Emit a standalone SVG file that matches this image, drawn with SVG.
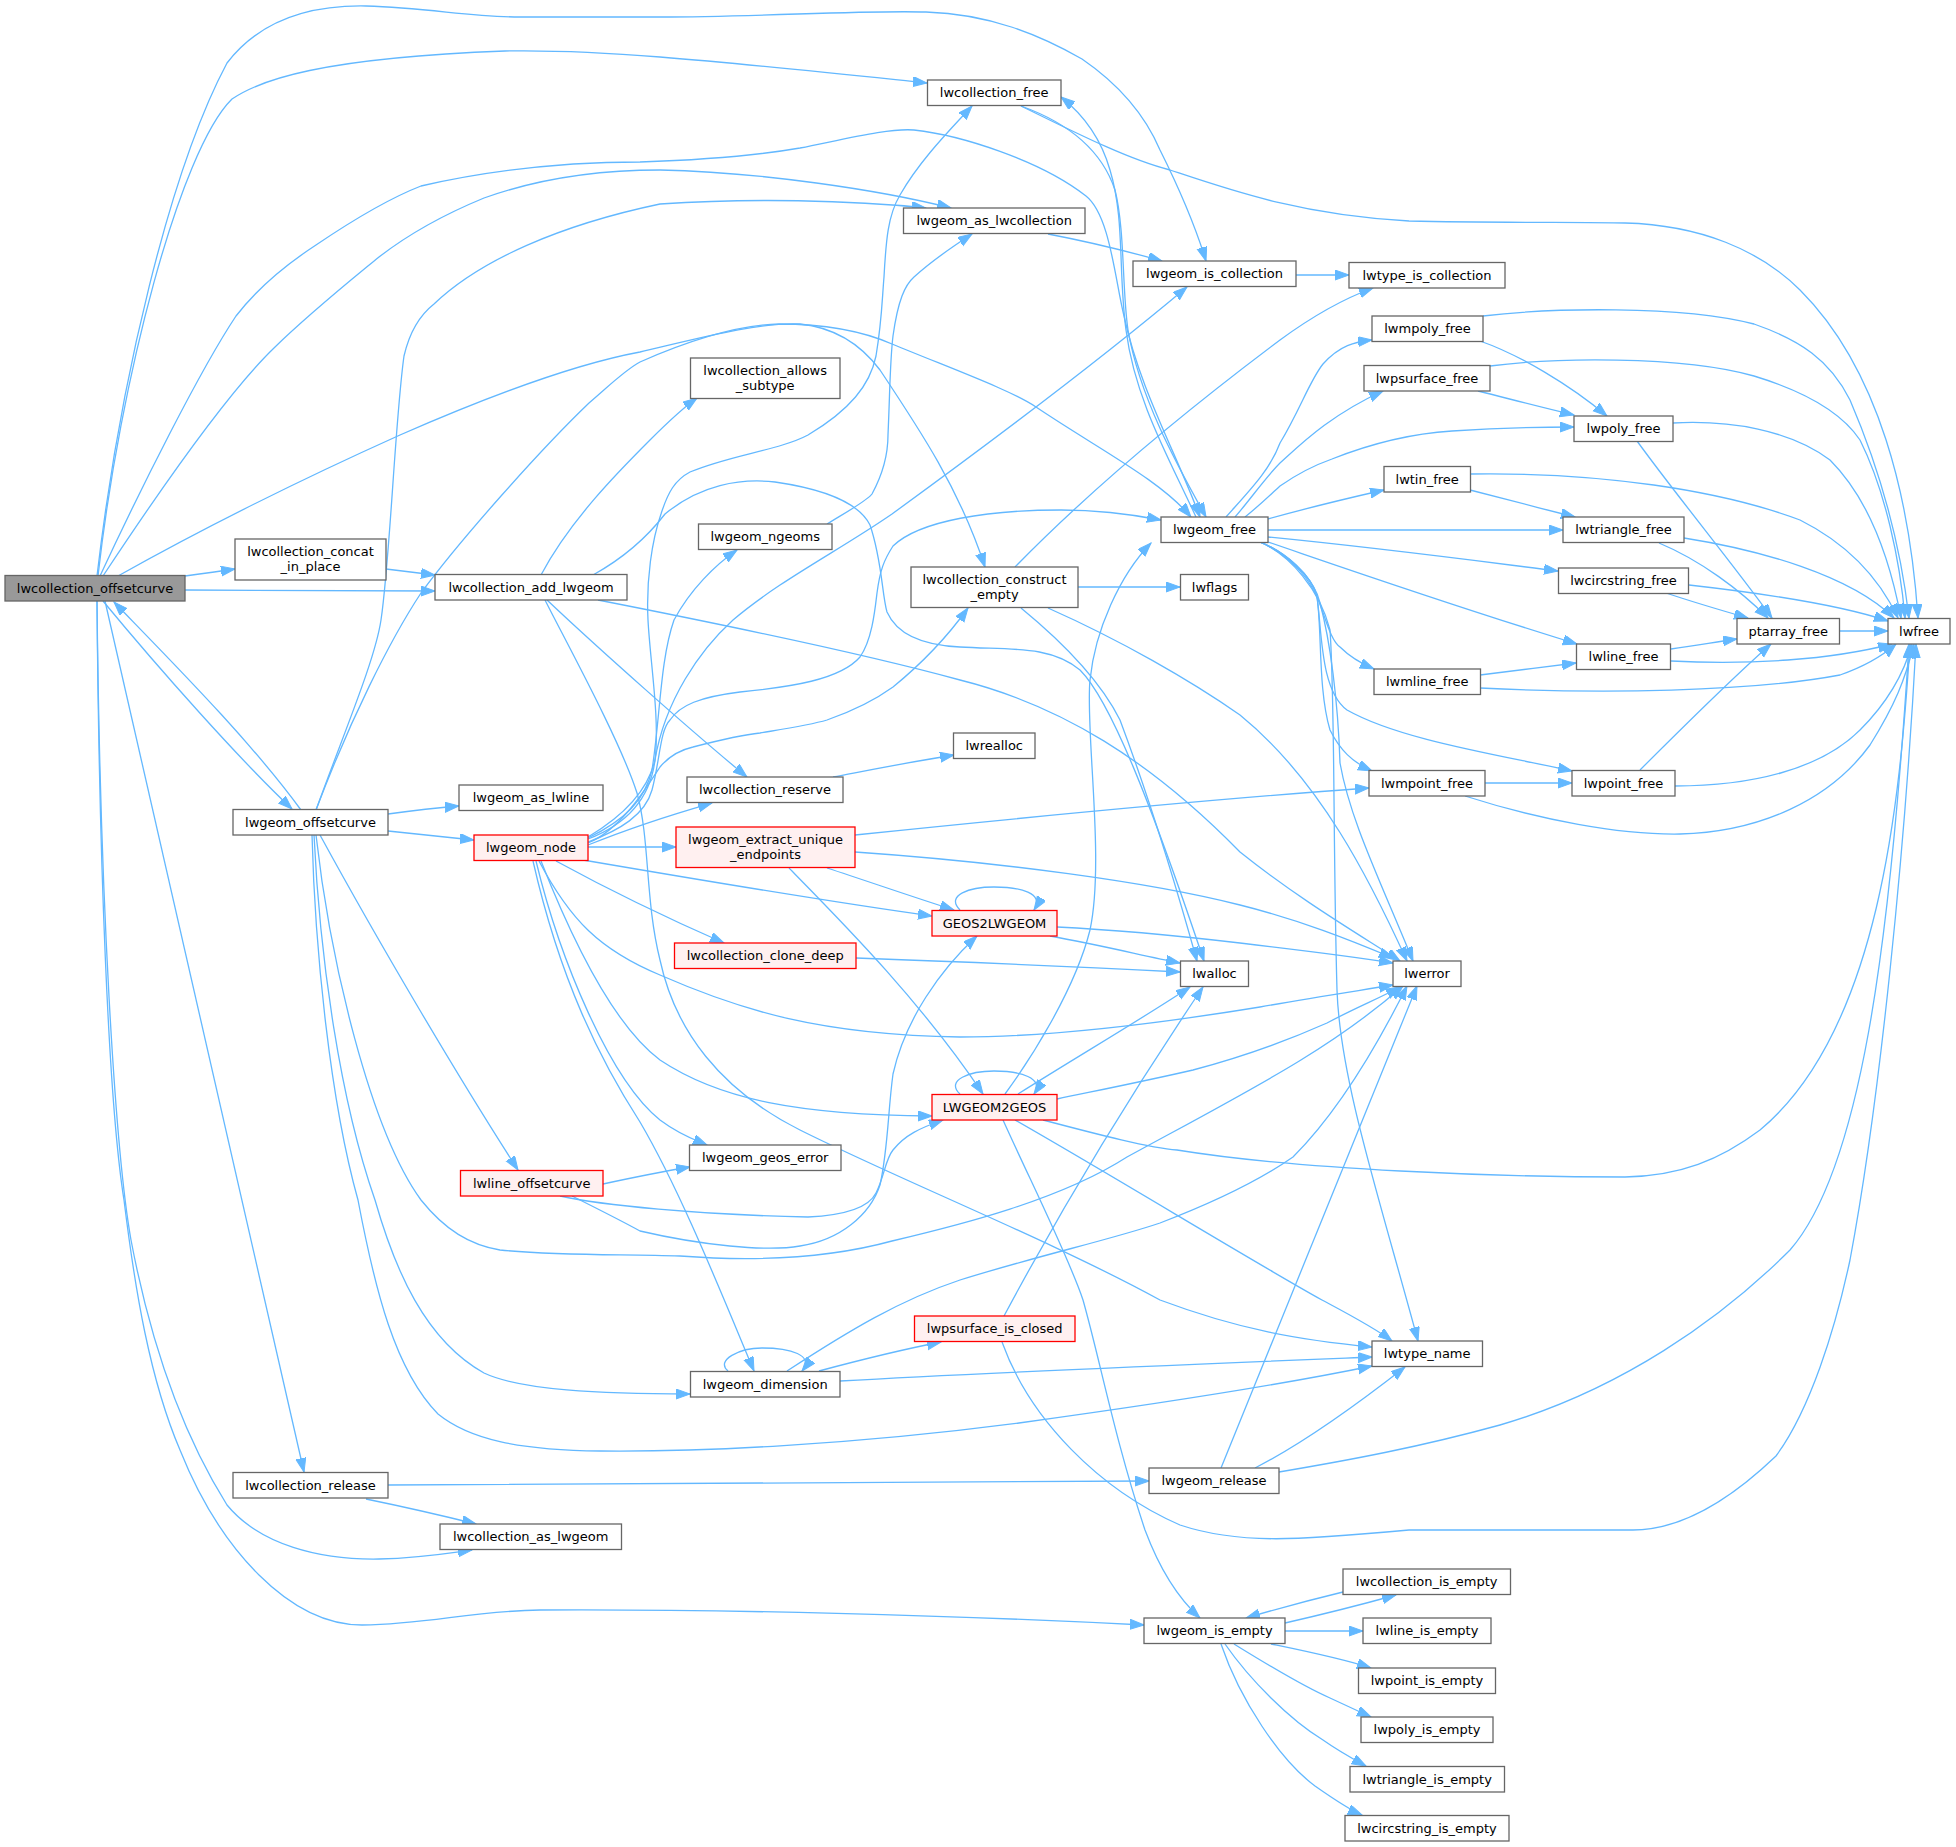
<svg xmlns="http://www.w3.org/2000/svg" width="1956" height="1847" viewBox="0 0 1956 1847">
<defs>
<marker id="ah" markerUnits="userSpaceOnUse" markerWidth="15" markerHeight="11" refX="14" refY="5" orient="auto">
<path d="M0,0 L14,5 L0,10 z" fill="#63b8ff" stroke="#63b8ff" stroke-width="1"/>
</marker>
<style>
.e path{fill:none;stroke:#63b8ff;stroke-width:1.3;marker-end:url(#ah)}
rect{fill:#ffffff;stroke:#666666;stroke-width:1.3}
.r rect{fill:#fff0f0;stroke:#ff0000}
.root rect{fill:#999999;stroke:#666666}
text{font-family:"DejaVu Sans","Liberation Sans",sans-serif;font-size:13px;text-anchor:middle;fill:#000000}
</style>
</defs>
<rect x="0" y="0" width="1956" height="1847" style="fill:#ffffff;stroke:none"/>
<g id="connectors" class="e">
<path d="M185,576 C200,574 215,572 235,569"/>
<path d="M185,590 C280,591 360,591 435,591"/>
<path d="M386,569 C402,571 418,573 435,575"/>
<path d="M103,601 C160,670 240,760 292,809"/>
<path d="M301,810 C250,740 170,660 114,602"/>
<path d="M105,601 L304,1472"/>
<path d="M97,601 C100,900 115,1150 131,1240 C150,1340 180,1430 227,1505 C260,1545 320,1560 379,1559 C420,1558 450,1553 472,1550"/>
<path d="M97,601 C99,850 108,1100 124,1200 C135,1290 150,1380 180,1450 C220,1550 290,1625 362,1625 C430,1624 470,1611 540,1610 C720,1609 950,1615 1144,1625"/>
<path d="M97,576 C120,380 170,170 227,63 C260,20 310,5 366,6 C430,8 470,17 520,17 L660,17 C760,17 860,10 926,12 C990,14 1040,35 1082,59 C1120,85 1145,115 1160,150 C1180,190 1195,225 1206,261"/>
<path d="M98,576 C120,380 180,150 232,99 C260,80 320,58 505,51 C560,50 610,53 660,57 C760,65 860,76 927,83"/>
<path d="M100,576 C140,490 200,370 236,316 C260,285 290,262 316,245 C350,222 390,198 421,186 C500,168 570,162 640,162 C700,160 760,155 800,148 C850,138 890,128 914,130 C960,135 1040,160 1086,196 C1110,215 1115,280 1124,316 C1140,390 1175,450 1200,517"/>
<path d="M103,576 C140,520 220,400 274,348 C310,313 345,285 379,257 C410,233 450,212 484,198 C540,178 600,170 660,170 C760,172 880,190 951,208"/>
<path d="M118,576 C200,530 300,480 400,435 C480,400 570,365 640,352 C700,338 760,322 800,324 C840,328 865,350 880,370 C920,430 960,490 985,567"/>
<path d="M316,810 C350,720 390,640 421,593 C460,540 540,450 589,403 C610,385 625,370 640,362 C690,340 740,325 779,324 C820,324 860,330 892,344 C960,372 1010,390 1036,407 C1100,450 1160,480 1191,517"/>
<path d="M316,810 C345,730 375,660 381,620 C390,560 395,420 404,356 C410,330 420,315 434,304 C480,260 560,225 660,204 C750,198 850,200 926,208"/>
<path d="M388,814 C410,811 435,808 459,806"/>
<path d="M388,831 C415,834 445,837 474,840"/>
<path d="M320,835 C380,945 460,1080 518,1170"/>
<path d="M314,835 C320,960 340,1100 375,1200 C395,1270 425,1340 484,1373 C520,1390 600,1394 690,1394"/>
<path d="M312,835 C315,950 330,1100 358,1200 C375,1290 395,1370 438,1414 C470,1440 520,1450 600,1451 C700,1452 850,1445 1019,1423 C1150,1405 1280,1385 1372,1366"/>
<path d="M316,835 C330,960 370,1130 421,1200 C445,1230 470,1245 500,1250 C560,1256 620,1254 680,1256 C760,1262 830,1258 892,1241 C960,1225 1060,1200 1127,1157 C1250,1090 1330,1050 1403,986"/>
<path d="M541,575 C570,520 620,470 650,440 C665,425 680,410 697,398"/>
<path d="M593,575 C620,560 645,540 665,514 C700,485 740,478 775,482 C830,490 860,505 870,525 C882,560 882,595 887,612 C895,630 915,645 960,647 C1010,650 1050,645 1080,670 C1110,700 1150,800 1204,961"/>
<path d="M547,600 C600,650 690,730 747,777"/>
<path d="M598,600 C700,620 850,650 960,680 C1060,705 1150,760 1240,852 C1300,900 1360,935 1400,961"/>
<path d="M545,600 C565,640 620,740 637,793 C650,840 645,900 660,960 C675,1030 720,1090 800,1130 C900,1180 1050,1240 1160,1300 C1240,1330 1300,1340 1372,1347"/>
<path d="M833,777 C870,770 910,762 954,755"/>
<path d="M588,839 C625,825 650,800 655,760 C660,720 650,660 648,620 C646,580 652,540 661,514 C668,492 675,480 690,472 C730,455 780,450 808,435 C850,410 870,385 876,356 C882,320 882,300 884,277 C886,240 888,215 900,195 C920,160 950,130 972,106"/>
<path d="M588,842 C620,830 645,815 652,790 C660,760 660,730 670,720 C680,705 700,697 740,692 C790,687 840,680 860,657 C872,640 875,610 877,593 C880,570 884,560 893,546 C920,520 990,510 1061,510 C1100,510 1130,514 1161,520"/>
<path d="M588,838 C625,820 645,800 652,770 C660,720 660,660 674,620 C690,590 715,565 737,550"/>
<path d="M588,837 C625,815 648,790 655,760 C665,700 700,650 733,620 C780,580 840,550 892,514 C980,450 1100,360 1187,287"/>
<path d="M588,843 C620,830 645,790 660,767 C670,755 680,750 693,747 C720,740 740,735 760,733 C790,728 810,725 827,720 C850,712 875,700 893,687 C920,665 945,640 968,608"/>
<path d="M588,845 C620,832 670,815 712,803"/>
<path d="M588,847 L676,847"/>
<path d="M583,860 C700,880 830,902 932,916"/>
<path d="M556,861 C600,885 660,915 724,943"/>
<path d="M539,861 C570,920 600,950 660,975 C740,1010 820,1035 960,1037 C1050,1037 1150,1025 1260,1007 C1310,998 1350,992 1393,985"/>
<path d="M541,861 C580,960 620,1030 660,1060 C720,1100 800,1115 932,1116"/>
<path d="M536,861 C560,960 610,1080 660,1120 C680,1135 695,1140 707,1145"/>
<path d="M533,861 C560,980 600,1060 640,1122 C680,1190 720,1290 754,1371"/>
<path d="M855,835 C1000,820 1200,800 1369,788"/>
<path d="M855,852 C1000,862 1150,882 1240,905 C1300,920 1350,940 1393,958"/>
<path d="M827,868 C870,882 910,896 954,910"/>
<path d="M789,868 C840,920 920,1000 983,1094"/>
<path d="M960,910 C945,895 970,887 994,887 C1020,887 1045,893 1034,910"/>
<path d="M1050,936 C1100,945 1140,955 1180,963"/>
<path d="M1057,927 C1120,930 1180,936 1240,943 C1300,950 1350,956 1393,963"/>
<path d="M856,958 C1000,963 1100,968 1180,972"/>
<path d="M960,1094 C945,1080 970,1071 994,1071 C1020,1071 1045,1078 1034,1094"/>
<path d="M1018,1094 C1080,1055 1140,1020 1190,987"/>
<path d="M1057,1099 C1100,1090 1150,1080 1193,1070 C1250,1055 1300,1035 1327,1023 C1355,1008 1380,998 1400,987"/>
<path d="M1043,1120 C1100,1135 1150,1148 1177,1150 C1300,1170 1500,1177 1625,1177 C1680,1176 1720,1160 1760,1130 C1880,1030 1900,800 1910,644"/>
<path d="M1015,1120 C1120,1180 1250,1260 1322,1300 C1350,1315 1375,1328 1392,1341"/>
<path d="M1003,1120 C1030,1180 1070,1260 1083,1300 C1100,1360 1115,1440 1145,1530 C1160,1570 1180,1600 1200,1618"/>
<path d="M1005,1094 C1030,1060 1075,990 1090,930 C1105,860 1085,730 1090,680 C1095,630 1120,575 1151,543"/>
<path d="M603,1184 C640,1176 660,1172 690,1167"/>
<path d="M572,1196 C600,1210 620,1220 640,1231 C700,1245 766,1252 800,1246 C840,1240 870,1215 880,1185 C888,1150 888,1110 893,1074 C905,1020 940,970 977,936"/>
<path d="M560,1196 C600,1205 700,1215 808,1217 C850,1215 870,1205 876,1193 C885,1175 885,1160 893,1150 C905,1135 920,1128 943,1120"/>
<path d="M728,1371 C715,1360 740,1348 762,1348 C790,1348 815,1355 802,1371"/>
<path d="M819,1371 C860,1360 900,1350 941,1342"/>
<path d="M840,1381 C1000,1372 1200,1364 1372,1357"/>
<path d="M787,1371 C850,1330 900,1300 960,1280 C1040,1255 1110,1240 1160,1223 C1220,1200 1260,1180 1293,1157 C1340,1110 1380,1040 1407,986"/>
<path d="M1004,1316 C1050,1230 1120,1110 1203,987"/>
<path d="M1002,1342 C1030,1420 1100,1490 1180,1525 C1240,1545 1300,1540 1409,1530 C1500,1530 1580,1530 1633,1530 C1680,1530 1730,1500 1776,1456 C1810,1410 1835,1330 1850,1260 C1880,1100 1905,850 1916,644"/>
<path d="M1221,1468 L1417,986"/>
<path d="M1255,1468 C1300,1445 1350,1410 1405,1367"/>
<path d="M1279,1472 C1350,1460 1420,1447 1500,1425 C1620,1390 1720,1320 1790,1250 C1860,1170 1890,950 1909,644"/>
<path d="M388,1485 C700,1484 900,1482 1149,1481"/>
<path d="M366,1499 C400,1506 440,1515 476,1524"/>
<path d="M1285,1623 C1320,1615 1360,1605 1396,1595"/>
<path d="M1343,1592 C1310,1600 1280,1608 1246,1618"/>
<path d="M1285,1631 L1363,1631"/>
<path d="M1271,1644 C1300,1650 1340,1658 1371,1668"/>
<path d="M1234,1644 C1260,1660 1300,1685 1330,1698 C1345,1705 1360,1712 1371,1717"/>
<path d="M1225,1644 C1250,1680 1290,1720 1323,1740 C1340,1752 1355,1760 1366,1766"/>
<path d="M1221,1644 C1240,1700 1280,1760 1315,1786 C1335,1800 1350,1810 1362,1815"/>
<path d="M1048,234 C1090,242 1130,252 1162,261"/>
<path d="M1296,275 L1349,275"/>
<path d="M827,524 C850,510 868,500 872,494 C885,470 888,450 888,435 C890,390 890,360 893,336 C898,300 905,285 914,277 C935,258 955,245 972,234"/>
<path d="M1021,106 C1060,120 1100,145 1115,190 C1125,230 1122,290 1128,330 C1140,400 1180,470 1206,517"/>
<path d="M1196,517 C1170,460 1135,400 1126,330 C1118,270 1125,220 1110,170 C1100,135 1080,112 1061,97"/>
<path d="M1021,106 C1080,135 1130,160 1170,170 C1230,190 1300,215 1409,221 C1500,223 1580,222 1625,223 C1700,225 1760,250 1800,290 C1880,370 1910,500 1918,618"/>
<path d="M1015,567 C1100,480 1200,400 1280,340 C1310,318 1340,300 1373,288"/>
<path d="M1078,587 L1180,587"/>
<path d="M1021,608 C1060,640 1100,680 1120,720 C1150,800 1180,900 1197,961"/>
<path d="M1048,608 C1120,640 1190,680 1240,715 C1320,780 1370,880 1407,961"/>
<path d="M1226,517 C1250,490 1270,470 1280,443 C1300,410 1310,380 1323,364 C1340,345 1355,342 1372,340"/>
<path d="M1235,517 C1250,500 1265,478 1280,463 C1300,445 1330,415 1383,391"/>
<path d="M1245,517 C1260,505 1270,495 1280,486 C1300,472 1315,465 1332,459 C1380,440 1420,433 1452,431 C1500,428 1540,427 1574,427"/>
<path d="M1268,519 C1300,510 1340,500 1384,490"/>
<path d="M1268,530 L1563,530"/>
<path d="M1268,537 C1380,548 1470,560 1558,571"/>
<path d="M1268,542 C1350,570 1450,605 1577,644"/>
<path d="M1260,542 C1280,550 1305,570 1317,597 C1325,615 1330,640 1340,647 C1350,657 1360,663 1374,669"/>
<path d="M1260,542 C1285,552 1312,575 1317,597 C1322,630 1318,690 1330,730 C1340,750 1352,762 1372,771"/>
<path d="M1260,542 C1285,552 1312,575 1317,597 C1322,630 1320,690 1347,710 C1400,740 1500,755 1572,771"/>
<path d="M1260,542 C1290,555 1315,580 1320,603 C1330,640 1338,700 1340,763 C1350,820 1380,880 1413,961"/>
<path d="M1260,542 C1290,555 1320,590 1330,630 C1335,700 1333,850 1337,990 C1340,1080 1380,1200 1418,1341"/>
<path d="M1483,316 C1550,308 1680,305 1754,324 C1800,340 1830,360 1850,400 C1880,470 1900,540 1909,618"/>
<path d="M1480,341 C1520,355 1570,385 1607,416"/>
<path d="M1490,366 C1550,358 1680,355 1754,376 C1800,390 1840,410 1860,440 C1885,490 1900,560 1905,618"/>
<path d="M1478,391 C1510,399 1540,407 1574,415"/>
<path d="M1673,423 C1730,420 1790,430 1830,460 C1870,500 1890,560 1901,618"/>
<path d="M1637,441 C1680,500 1730,560 1772,618"/>
<path d="M1470,474 C1600,472 1720,490 1800,520 C1850,545 1880,580 1898,618"/>
<path d="M1470,490 C1500,498 1540,508 1575,517"/>
<path d="M1684,538 C1760,550 1850,575 1894,618"/>
<path d="M1659,543 C1700,560 1740,590 1768,618"/>
<path d="M1689,585 C1760,593 1840,605 1888,621"/>
<path d="M1666,593 C1690,601 1720,610 1748,618"/>
<path d="M1840,631 L1888,631"/>
<path d="M1671,649 C1695,646 1715,642 1737,639"/>
<path d="M1671,661 C1750,665 1830,660 1892,644"/>
<path d="M1480,675 C1510,671 1545,667 1576,663"/>
<path d="M1480,688 C1600,694 1750,692 1840,675 C1860,668 1880,658 1896,644"/>
<path d="M1485,783 L1572,783"/>
<path d="M1465,796 C1540,820 1620,835 1680,834 C1760,832 1830,800 1870,745 C1895,705 1905,680 1914,644"/>
<path d="M1640,770 C1680,730 1730,680 1771,644"/>
<path d="M1675,786 C1750,786 1820,770 1860,730 C1890,700 1905,670 1912,644"/>
</g>
<g id="n1" class="root"><rect x="5" y="575.5" width="180" height="25.5"/><text x="95" y="592.7">lwcollection_offsetcurve</text></g>
<g id="n2"><rect x="235" y="539" width="151" height="41"/><text x="310.5" y="555.5">lwcollection_concat</text><text x="310.5" y="570.5">_in_place</text></g>
<g id="n3"><rect x="435" y="574.5" width="192" height="25.5"/><text x="531" y="591.7">lwcollection_add_lwgeom</text></g>
<g id="n4"><rect x="927.5" y="80" width="133.5" height="25.5"/><text x="994.2" y="97.2">lwcollection_free</text></g>
<g id="n5"><rect x="903.5" y="208" width="181.5" height="25.5"/><text x="994.2" y="225.2">lwgeom_as_lwcollection</text></g>
<g id="n6"><rect x="1133" y="261" width="163" height="25.5"/><text x="1214.5" y="278.2">lwgeom_is_collection</text></g>
<g id="n7"><rect x="1349" y="262.5" width="156" height="25.5"/><text x="1427" y="279.7">lwtype_is_collection</text></g>
<g id="n8"><rect x="690.5" y="358" width="149.5" height="40.5"/><text x="765.2" y="374.5">lwcollection_allows</text><text x="765.2" y="389.5">_subtype</text></g>
<g id="n9"><rect x="698.5" y="524" width="133.5" height="25.5"/><text x="765.2" y="541.2">lwgeom_ngeoms</text></g>
<g id="n10"><rect x="1161" y="517" width="107" height="25.5"/><text x="1214.5" y="534.2">lwgeom_free</text></g>
<g id="n11"><rect x="911" y="567" width="167" height="40.5"/><text x="994.5" y="583.5">lwcollection_construct</text><text x="994.5" y="598.5">_empty</text></g>
<g id="n12"><rect x="1180.5" y="574.5" width="68" height="25.5"/><text x="1214.5" y="591.7">lwflags</text></g>
<g id="n13"><rect x="1372" y="316" width="111" height="25.5"/><text x="1427.5" y="333.2">lwmpoly_free</text></g>
<g id="n14"><rect x="1364" y="365.5" width="126" height="25.5"/><text x="1427" y="382.7">lwpsurface_free</text></g>
<g id="n15"><rect x="1574" y="416" width="99" height="25.5"/><text x="1623.5" y="433.2">lwpoly_free</text></g>
<g id="n16"><rect x="1384" y="466.5" width="86.5" height="25.5"/><text x="1427.2" y="483.7">lwtin_free</text></g>
<g id="n17"><rect x="1563" y="517" width="121" height="25.5"/><text x="1623.5" y="534.2">lwtriangle_free</text></g>
<g id="n18"><rect x="1558.5" y="568" width="130" height="25.5"/><text x="1623.5" y="585.2">lwcircstring_free</text></g>
<g id="n19"><rect x="1737" y="618.5" width="102.5" height="25.5"/><text x="1788.2" y="635.7">ptarray_free</text></g>
<g id="n20"><rect x="1888" y="618.5" width="62" height="25.5"/><text x="1919" y="635.7">lwfree</text></g>
<g id="n21"><rect x="1576.5" y="644" width="94" height="25.5"/><text x="1623.5" y="661.2">lwline_free</text></g>
<g id="n22"><rect x="1374" y="669" width="106.5" height="25.5"/><text x="1427.2" y="686.2">lwmline_free</text></g>
<g id="n23"><rect x="1369" y="770.5" width="116" height="25.5"/><text x="1427" y="787.7">lwmpoint_free</text></g>
<g id="n24"><rect x="1572" y="770.5" width="103" height="25.5"/><text x="1623.5" y="787.7">lwpoint_free</text></g>
<g id="n25"><rect x="1393" y="961" width="68" height="25.5"/><text x="1427" y="978.2">lwerror</text></g>
<g id="n26"><rect x="953.5" y="733" width="81.5" height="25.5"/><text x="994.2" y="750.2">lwrealloc</text></g>
<g id="n27"><rect x="687" y="777" width="156" height="25.5"/><text x="765" y="794.2">lwcollection_reserve</text></g>
<g id="n28" class="r"><rect x="676" y="827" width="179" height="40.5"/><text x="765.5" y="843.5">lwgeom_extract_unique</text><text x="765.5" y="858.5">_endpoints</text></g>
<g id="n29" class="r"><rect x="932" y="910.5" width="125" height="25.5"/><text x="994.5" y="927.7">GEOS2LWGEOM</text></g>
<g id="n30" class="r"><rect x="674.5" y="943" width="181.5" height="25.5"/><text x="765.2" y="960.2">lwcollection_clone_deep</text></g>
<g id="n31"><rect x="1180.5" y="961" width="68" height="25.5"/><text x="1214.5" y="978.2">lwalloc</text></g>
<g id="n32" class="r"><rect x="932" y="1094.5" width="125" height="25.5"/><text x="994.5" y="1111.7">LWGEOM2GEOS</text></g>
<g id="n33"><rect x="689.5" y="1145" width="151.5" height="25.5"/><text x="765.2" y="1162.2">lwgeom_geos_error</text></g>
<g id="n34"><rect x="459" y="785" width="144" height="25.5"/><text x="531" y="802.2">lwgeom_as_lwline</text></g>
<g id="n35"><rect x="233" y="809.5" width="155" height="25.5"/><text x="310.5" y="826.7">lwgeom_offsetcurve</text></g>
<g id="n36" class="r"><rect x="474" y="835" width="114" height="25.5"/><text x="531" y="852.2">lwgeom_node</text></g>
<g id="n37" class="r"><rect x="460.5" y="1170.5" width="142.5" height="25.5"/><text x="531.7" y="1187.7">lwline_offsetcurve</text></g>
<g id="n38" class="r"><rect x="914.5" y="1316" width="160.5" height="25.5"/><text x="994.7" y="1333.2">lwpsurface_is_closed</text></g>
<g id="n39"><rect x="690.5" y="1371.5" width="149.5" height="25.5"/><text x="765.2" y="1388.7">lwgeom_dimension</text></g>
<g id="n40"><rect x="1372" y="1341" width="110.5" height="25.5"/><text x="1427.2" y="1358.2">lwtype_name</text></g>
<g id="n41"><rect x="1149" y="1468" width="130" height="25.5"/><text x="1214" y="1485.2">lwgeom_release</text></g>
<g id="n42"><rect x="233" y="1472.5" width="155" height="25.5"/><text x="310.5" y="1489.7">lwcollection_release</text></g>
<g id="n43"><rect x="440" y="1524" width="181.5" height="25.5"/><text x="530.7" y="1541.2">lwcollection_as_lwgeom</text></g>
<g id="n44"><rect x="1144" y="1618" width="141" height="25.5"/><text x="1214.5" y="1635.2">lwgeom_is_empty</text></g>
<g id="n45"><rect x="1343" y="1569" width="167.5" height="25.5"/><text x="1426.7" y="1586.2">lwcollection_is_empty</text></g>
<g id="n46"><rect x="1363" y="1618" width="128" height="25.5"/><text x="1427" y="1635.2">lwline_is_empty</text></g>
<g id="n47"><rect x="1358.5" y="1668" width="137" height="25.5"/><text x="1427" y="1685.2">lwpoint_is_empty</text></g>
<g id="n48"><rect x="1361" y="1717" width="132" height="25.5"/><text x="1427" y="1734.2">lwpoly_is_empty</text></g>
<g id="n49"><rect x="1350" y="1766.5" width="154.5" height="25.5"/><text x="1427.2" y="1783.7">lwtriangle_is_empty</text></g>
<g id="n50"><rect x="1345" y="1815.5" width="164" height="25.5"/><text x="1427" y="1832.7">lwcircstring_is_empty</text></g>
</svg>
